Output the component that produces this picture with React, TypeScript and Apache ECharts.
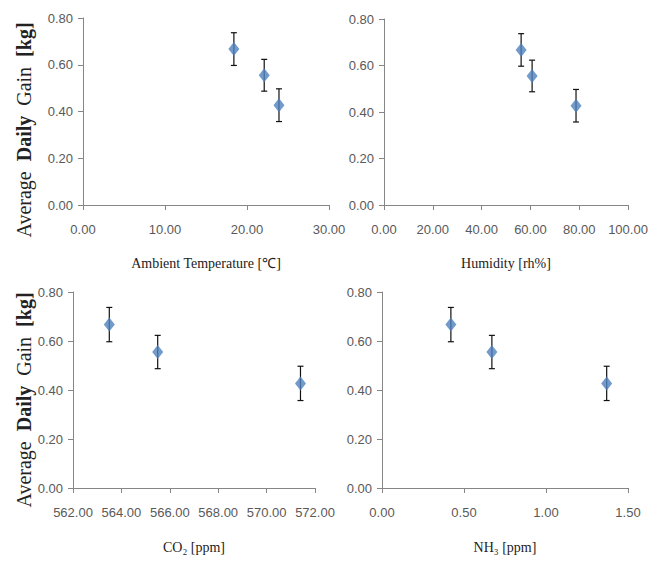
import React, { useEffect, useRef } from "react";
import * as echarts from "echarts";

const temperature = [18.4, 22.1, 23.9];
const humidity = [56.2, 60.7, 78.7];
const co2 = [563.5, 565.5, 571.4];
const nh3 = [0.42, 0.67, 1.37];
const adg = [0.667, 0.555, 0.427];
const adgErr = [0.07, 0.068, 0.07];

const xTitles = ["Ambient Temperature [℃]", "Humidity [rh%]", "CO₂ [ppm]", "NH₃ [ppm]"];
const xRanges = [
  { min: 0, max: 30, interval: 10 },
  { min: 0, max: 100, interval: 20 },
  { min: 562, max: 572, interval: 2 },
  { min: 0, max: 1.5, interval: 0.5 },
];
const yTitle = "{n|Average}  {b|Daily}  {n|Gain}  {b|[kg]}";
const xValues = [temperature, humidity, co2, nh3];

export default function App() {
  const ref = useRef<HTMLDivElement>(null);
  useEffect(() => {
    document.body.style.margin = "0";
    const chart = echarts.init(ref.current!, null, { renderer: "svg" });
    const grids = [
      { left: 83, top: 18, width: 246, height: 187 },
      { left: 384, top: 19, width: 244, height: 186 },
      { left: 73, top: 292, width: 242, height: 196 },
      { left: 382, top: 292, width: 246, height: 196 },
    ];
    const axisLine = { lineStyle: { color: "#868686", width: 1 } };
    const tickLabel = {
      color: "#595959",
      fontFamily: "Liberation Sans",
      fontSize: 13,
    };
    const xAxis = xRanges.map((r, i) => ({
      type: "value",
      gridIndex: i,
      min: r.min,
      max: r.max,
      interval: r.interval,
      splitLine: { show: false },
      axisLine: { ...axisLine, onZero: false },
      axisTick: { show: true, length: 5, inside: false, lineStyle: { color: "#868686" } },
      axisLabel: { ...tickLabel, margin: 18, formatter: (v: number) => v.toFixed(2) },
      name: xTitles[i],
      nameLocation: "middle",
      nameGap: i < 2 ? 51 : 52,
      nameTextStyle: { fontFamily: "Liberation Serif", fontSize: 14, color: "#222" },
    }));
    const yAxis = grids.map((_, i) => ({
      type: "value",
      gridIndex: i,
      min: 0,
      max: 0.8,
      interval: 0.2,
      splitLine: { show: false },
      axisLine: { show: true, ...axisLine },
      axisTick: { show: true, length: 5, lineStyle: { color: "#868686" } },
      axisLabel: { ...tickLabel, margin: 10, formatter: (v: number) => v.toFixed(2) },
    }));
    const rich = {
      n: { fontFamily: "Liberation Serif", fontSize: 20, fill: "#222", color: "#222" },
      b: { fontFamily: "Liberation Serif", fontSize: 20, fill: "#222", color: "#222", fontWeight: "bold" },
    };
    const yTitleGraphic = (cx: number, cy: number) => ({
      type: "text",
      x: cx,
      y: cy,
      rotation: Math.PI / 2,
      style: {
        text: yTitle,
        rich,
        font: "20px Liberation Serif",
        fill: "#222",
        align: "center",
        verticalAlign: "middle",
      },
    });
    const series: any[] = [];
    xValues.forEach((xs, i) => {
      series.push({
        type: "custom",
        xAxisIndex: i,
        yAxisIndex: i,
        data: xs.map((x, k) => [x, adg[k], adgErr[k]]),
        renderItem: (params: any, api: any) => {
          const x = api.value(0);
          const y = api.value(1);
          const e = api.value(2);
          const top = api.coord([x, y + e]);
          const bot = api.coord([x, y - e]);
          const hw = 3;
          const style = { stroke: "#111", lineWidth: 1.2 };
          return {
            type: "group",
            children: [
              { type: "line", shape: { x1: top[0], y1: top[1], x2: bot[0], y2: bot[1] }, style },
              { type: "line", shape: { x1: top[0] - hw, y1: top[1], x2: top[0] + hw, y2: top[1] }, style },
              { type: "line", shape: { x1: bot[0] - hw, y1: bot[1], x2: bot[0] + hw, y2: bot[1] }, style },
            ],
          };
        },
        z: 2,
      });
      series.push({
        type: "scatter",
        xAxisIndex: i,
        yAxisIndex: i,
        data: xs.map((x, k) => [x, adg[k]]),
        symbol: "diamond",
        symbolSize: [11, 14],
        itemStyle: { color: "#4F81BD" },
        z: 3,
      });
    });
    chart.setOption({
      animation: false,
      backgroundColor: "#fff",
      grid: grids,
      xAxis,
      yAxis,
      series,
      graphic: [yTitleGraphic(24, 130), yTitleGraphic(24, 400)],
    });
    return () => chart.dispose();
  }, []);
  return <div ref={ref} style={{ width: 668, height: 564 }} />;
}
